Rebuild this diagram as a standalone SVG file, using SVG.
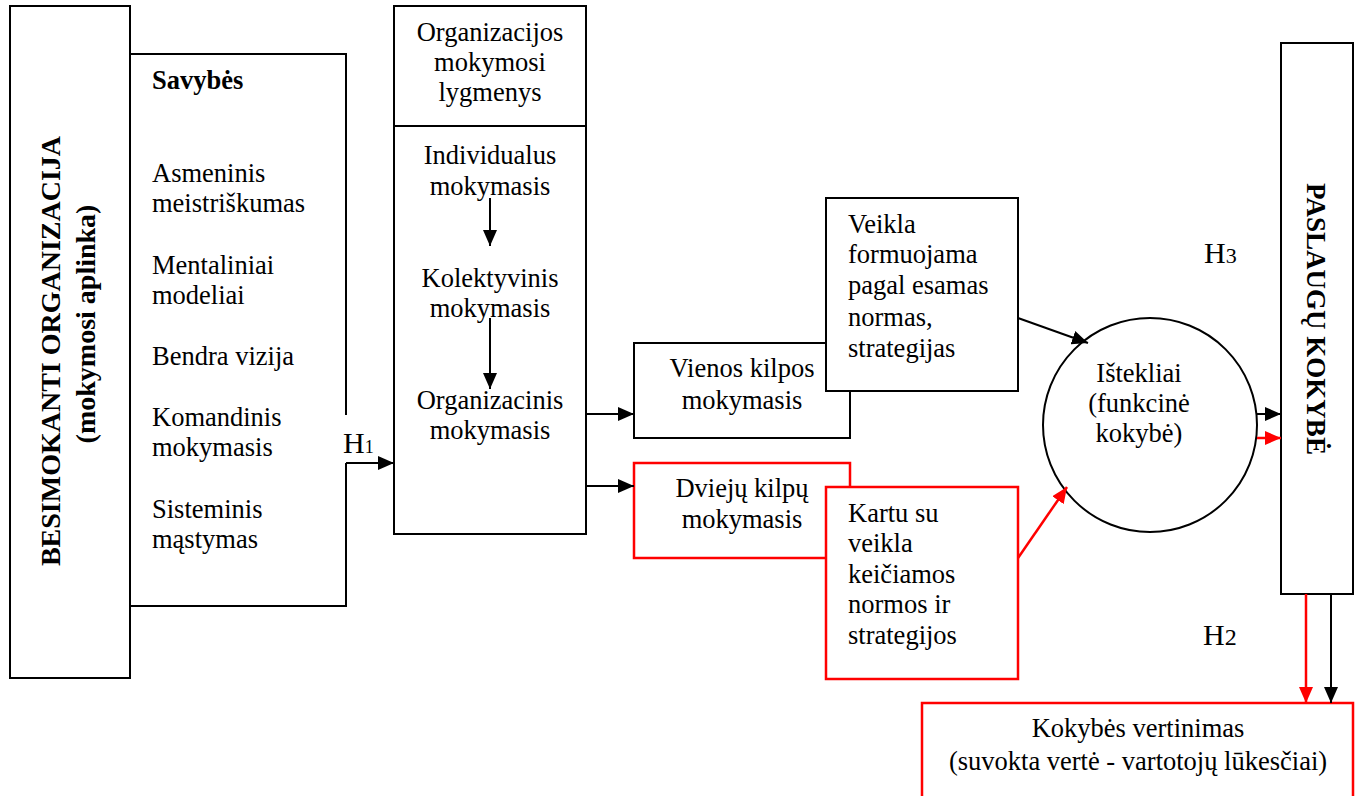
<svg xmlns="http://www.w3.org/2000/svg" width="1357" height="796" viewBox="0 0 1357 796">
<defs>
<style>
.t{font-family:"Liberation Serif","Times New Roman",serif;font-size:26.5px;fill:#000}
.c{text-anchor:middle}
.b{font-weight:bold}
.h{font-family:"Liberation Serif","Times New Roman",serif;font-size:30px;fill:#000}
.bk{fill:#fff;stroke:#000;stroke-width:2}
.rd{fill:#fff;stroke:#f00;stroke-width:2.5}
.ln{fill:none;stroke:#000;stroke-width:2}
.lr{fill:none;stroke:#f00;stroke-width:2.5}
</style>
<marker id="ab" markerUnits="userSpaceOnUse" markerWidth="16" markerHeight="14" refX="16" refY="7" orient="auto"><path d="M0,0 L16,7 L0,14 z" fill="#000"/></marker>
<marker id="ar" markerUnits="userSpaceOnUse" markerWidth="16" markerHeight="14" refX="16" refY="7" orient="auto"><path d="M0,0 L16,7 L0,14 z" fill="#f00"/></marker>
</defs>
<rect width="1357" height="796" fill="#fff"/>

<g id="besimokanti">
<rect class="bk" x="10" y="6" width="120" height="672"/>
<text class="t b c" transform="translate(60,351) rotate(-90)" style="font-size:28px">BESIMOKANTI ORGANIZACIJA</text>
<text class="t b c" transform="translate(95,324) rotate(-90)" style="font-size:28px">(mokymosi aplinka)</text>
</g>

<g id="savybes">
<path class="ln" d="M346,415 V54 H130 V606 H346 V463"/>
<text class="t b" x="152" y="89">Savybės</text>
<text class="t" x="152" y="182">Asmeninis</text>
<text class="t" x="152" y="212">meistriškumas</text>
<text class="t" x="152" y="274">Mentaliniai</text>
<text class="t" x="152" y="304">modeliai</text>
<text class="t" x="152" y="365">Bendra vizija</text>
<text class="t" x="152" y="426">Komandinis</text>
<text class="t" x="152" y="456">mokymasis</text>
<text class="t" x="152" y="518">Sisteminis</text>
<text class="t" x="152" y="548">mąstymas</text>
</g>

<g id="lygmenys">
<rect class="bk" x="394" y="6" width="192" height="528"/>
<line class="ln" x1="394" y1="126" x2="586" y2="126"/>
<text class="t c" x="490" y="41">Organizacijos</text>
<text class="t c" x="490" y="71">mokymosi</text>
<text class="t c" x="490" y="101">lygmenys</text>
<text class="t c" x="490" y="164">Individualus</text>
<text class="t c" x="490" y="195">mokymasis</text>
<text class="t c" x="490" y="287">Kolektyvinis</text>
<text class="t c" x="490" y="317">mokymasis</text>
<text class="t c" x="490" y="409">Organizacinis</text>
<text class="t c" x="490" y="439">mokymasis</text>
</g>

<g id="vienos">
<rect class="bk" x="634" y="343" width="216" height="95"/>
<text class="t c" x="742" y="377">Vienos kilpos</text>
<text class="t c" x="742" y="409">mokymasis</text>
</g>

<g id="veikla">
<rect class="bk" x="826" y="198" width="192" height="193"/>
<text class="t" x="848" y="233">Veikla</text>
<text class="t" x="848" y="263">formuojama</text>
<text class="t" x="848" y="294">pagal esamas</text>
<text class="t" x="848" y="326">normas,</text>
<text class="t" x="848" y="357">strategijas</text>
</g>

<g id="dvieju">
<rect class="rd" x="634" y="463" width="216" height="95"/>
<text class="t c" x="742" y="497">Dviejų kilpų</text>
<text class="t c" x="742" y="528">mokymasis</text>
</g>

<g id="kartu">
<rect class="rd" x="826" y="487" width="192" height="192"/>
<text class="t" x="848" y="522">Kartu su</text>
<text class="t" x="848" y="552">veikla</text>
<text class="t" x="848" y="583">keičiamos</text>
<text class="t" x="848" y="613">normos ir</text>
<text class="t" x="848" y="644">strategijos</text>
</g>

<g id="istekliai">
<circle cx="1150" cy="425" r="107" fill="#fff" stroke="#000" stroke-width="2"/>
<text class="t c" x="1139" y="382">Ištekliai</text>
<text class="t c" x="1139" y="412">(funkcinė</text>
<text class="t c" x="1139" y="442">kokybė)</text>
</g>

<g id="paslaugu">
<rect class="bk" x="1281" y="43" width="72" height="551"/>
<text class="t b c" transform="translate(1307,319) rotate(90)" style="font-size:27px">PASLAUGŲ KOKYBĖ</text>
</g>

<g id="vertinimas">
<path class="lr" d="M922,800 V703 H1353 V800"/>
<text class="t c" x="1138" y="737">Kokybės vertinimas</text>
<text class="t c" x="1138" y="770">(suvokta vertė - vartotojų lūkesčiai)</text>
</g>

<g id="labels">
<text class="h" x="343" y="453">H<tspan style="font-size:18px">1</tspan></text>
<text class="h" x="1204" y="263">H<tspan style="font-size:22px">3</tspan></text>
<text class="h" x="1203" y="645">H<tspan style="font-size:24px">2</tspan></text>
</g>

<g id="connectors">
<line class="ln" x1="346" y1="463" x2="394" y2="463" marker-end="url(#ab)"/>
<line class="ln" x1="490" y1="198" x2="490" y2="246" marker-end="url(#ab)"/>
<line class="ln" x1="490" y1="318" x2="490" y2="389" marker-end="url(#ab)"/>
<line class="ln" x1="586" y1="414" x2="634" y2="414" marker-end="url(#ab)"/>
<line class="ln" x1="586" y1="486" x2="634" y2="486" marker-end="url(#ab)"/>
<line class="ln" x1="1018" y1="318" x2="1088" y2="343" marker-end="url(#ab)"/>
<line class="lr" x1="1018" y1="558" x2="1067" y2="487" marker-end="url(#ar)"/>
<line class="ln" x1="1257" y1="414" x2="1281" y2="414" marker-end="url(#ab)"/>
<line class="lr" x1="1257" y1="438" x2="1281" y2="438" marker-end="url(#ar)"/>
<line class="lr" x1="1306" y1="594" x2="1306" y2="703" marker-end="url(#ar)"/>
<line class="ln" x1="1331" y1="594" x2="1331" y2="703" marker-end="url(#ab)"/>
</g>
</svg>
